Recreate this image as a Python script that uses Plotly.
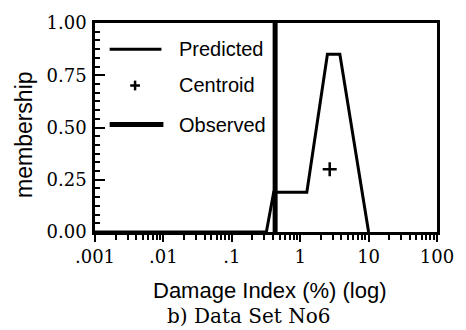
import plotly.graph_objects as go

# ---- data ----
pred_x = [0.001, 0.32, 0.41, 1.25, 2.5, 3.8, 10]
pred_y = [0, 0, 0.19, 0.19, 0.85, 0.85, 0]
centroid_x = [2.7]
centroid_y = [0.30]
observed_x = [0.43, 0.43]
observed_y = [0, 1]
x_tickvals = [0.001, 0.01, 0.1, 1, 10, 100]
x_ticktext = [".001", ".01", ".1", "1", "10", "100"]
y_tickvals = [0, 0.25, 0.5, 0.75, 1.0]
y_ticktext = ["0.00", "0.25", "0.50", "0.75", "1.00"]

SERIF = "DejaVu Serif"
SANS = "Liberation Sans"

W, H = 466, 330
L, R, T, B = 95, 445, 18, 232


def px(xs):
    return (xs - L) / (R - L)


def py(ys):
    return (B - ys) / (B - T)


fig = go.Figure()
fig.add_trace(go.Scatter(x=pred_x, y=pred_y, mode="lines", name="Predicted",
                         line=dict(color="black", width=3), showlegend=False))
fig.add_trace(go.Scatter(x=centroid_x, y=centroid_y, mode="markers", name="Centroid",
                         marker=dict(symbol="cross-thin", size=10, line=dict(color="black", width=2.5)),
                         showlegend=False))
fig.add_trace(go.Scatter(x=observed_x, y=observed_y, mode="lines", name="Observed",
                         line=dict(color="black", width=5), showlegend=False))

shapes = [
    dict(type="line", xref="paper", yref="paper", x0=px(110), x1=px(163), y0=py(45), y1=py(45),
         line=dict(color="black", width=3)),
    dict(type="line", xref="paper", yref="paper", x0=px(131), x1=px(141), y0=py(82), y1=py(82),
         line=dict(color="black", width=2.5)),
    dict(type="line", xref="paper", yref="paper", x0=px(136), x1=px(136), y0=py(77), y1=py(87),
         line=dict(color="black", width=2.5)),
    dict(type="line", xref="paper", yref="paper", x0=px(110), x1=px(165), y0=py(122), y1=py(122),
         line=dict(color="black", width=5)),
]

annotations = [
    dict(text="Predicted", x=px(179), y=py(45), xref="paper", yref="paper", xanchor="left",
         yanchor="middle", showarrow=False, font=dict(family=SANS, size=20, color="black")),
    dict(text="Centroid", x=px(179), y=py(81), xref="paper", yref="paper", xanchor="left",
         yanchor="middle", showarrow=False, font=dict(family=SANS, size=20, color="black")),
    dict(text="Observed", x=px(179), y=py(122), xref="paper", yref="paper", xanchor="left",
         yanchor="middle", showarrow=False, font=dict(family=SANS, size=20, color="black")),
    dict(text="Damage Index (%) (log)", x=px(274), y=py(292), xref="paper", yref="paper",
         xanchor="center", yanchor="middle", showarrow=False,
         font=dict(family=SANS, size=22, color="black")),
    dict(text="b) Data Set No6", x=px(252), y=py(318), xref="paper", yref="paper",
         xanchor="center", yanchor="middle", showarrow=False,
         font=dict(family=SERIF, size=20, color="black")),
    dict(text="membership", x=px(23), y=py(132), xref="paper", yref="paper",
         xanchor="center", yanchor="middle", showarrow=False, textangle=-90,
         font=dict(family=SANS, size=23, color="black")),
]

fig.update_layout(
    width=W, height=H,
    margin=dict(l=L, r=W - R, t=T, b=H - B),
    paper_bgcolor="white", plot_bgcolor="white",
    shapes=shapes, annotations=annotations,
    showlegend=False,
)
fig.update_xaxes(type="log", range=[-3, 2], tickvals=x_tickvals, ticktext=x_ticktext,
                 showgrid=False, zeroline=False, showline=True, mirror=True,
                 linecolor="black", linewidth=2.5,
                 ticks="outside", ticklen=7, tickwidth=2, tickcolor="black",
                 tickfont=dict(family=SERIF, size=18, color="black"),
                 minor=dict(ticks="outside", ticklen=5, tickwidth=2, tickcolor="black",
                            dtick="D1", showgrid=False))
fig.update_yaxes(range=[0, 1], tickvals=y_tickvals, ticktext=y_ticktext,
                 showgrid=False, zeroline=False, showline=True, mirror=True,
                 linecolor="black", linewidth=2.5,
                 ticks="inside", ticklen=10, tickwidth=2, tickcolor="black",
                 ticklabelstandoff=2,
                 tickfont=dict(family=SERIF, size=18, color="black"),
                 minor=dict(ticks="inside", ticklen=5, tickwidth=2, tickcolor="black",
                            dtick=0.25 / 6, tick0=0, showgrid=False))

fig.write_html("out.html",
               config={"displayModeBar": False},
               post_script="document.body.style.margin='0';document.documentElement.style.margin='0';")
